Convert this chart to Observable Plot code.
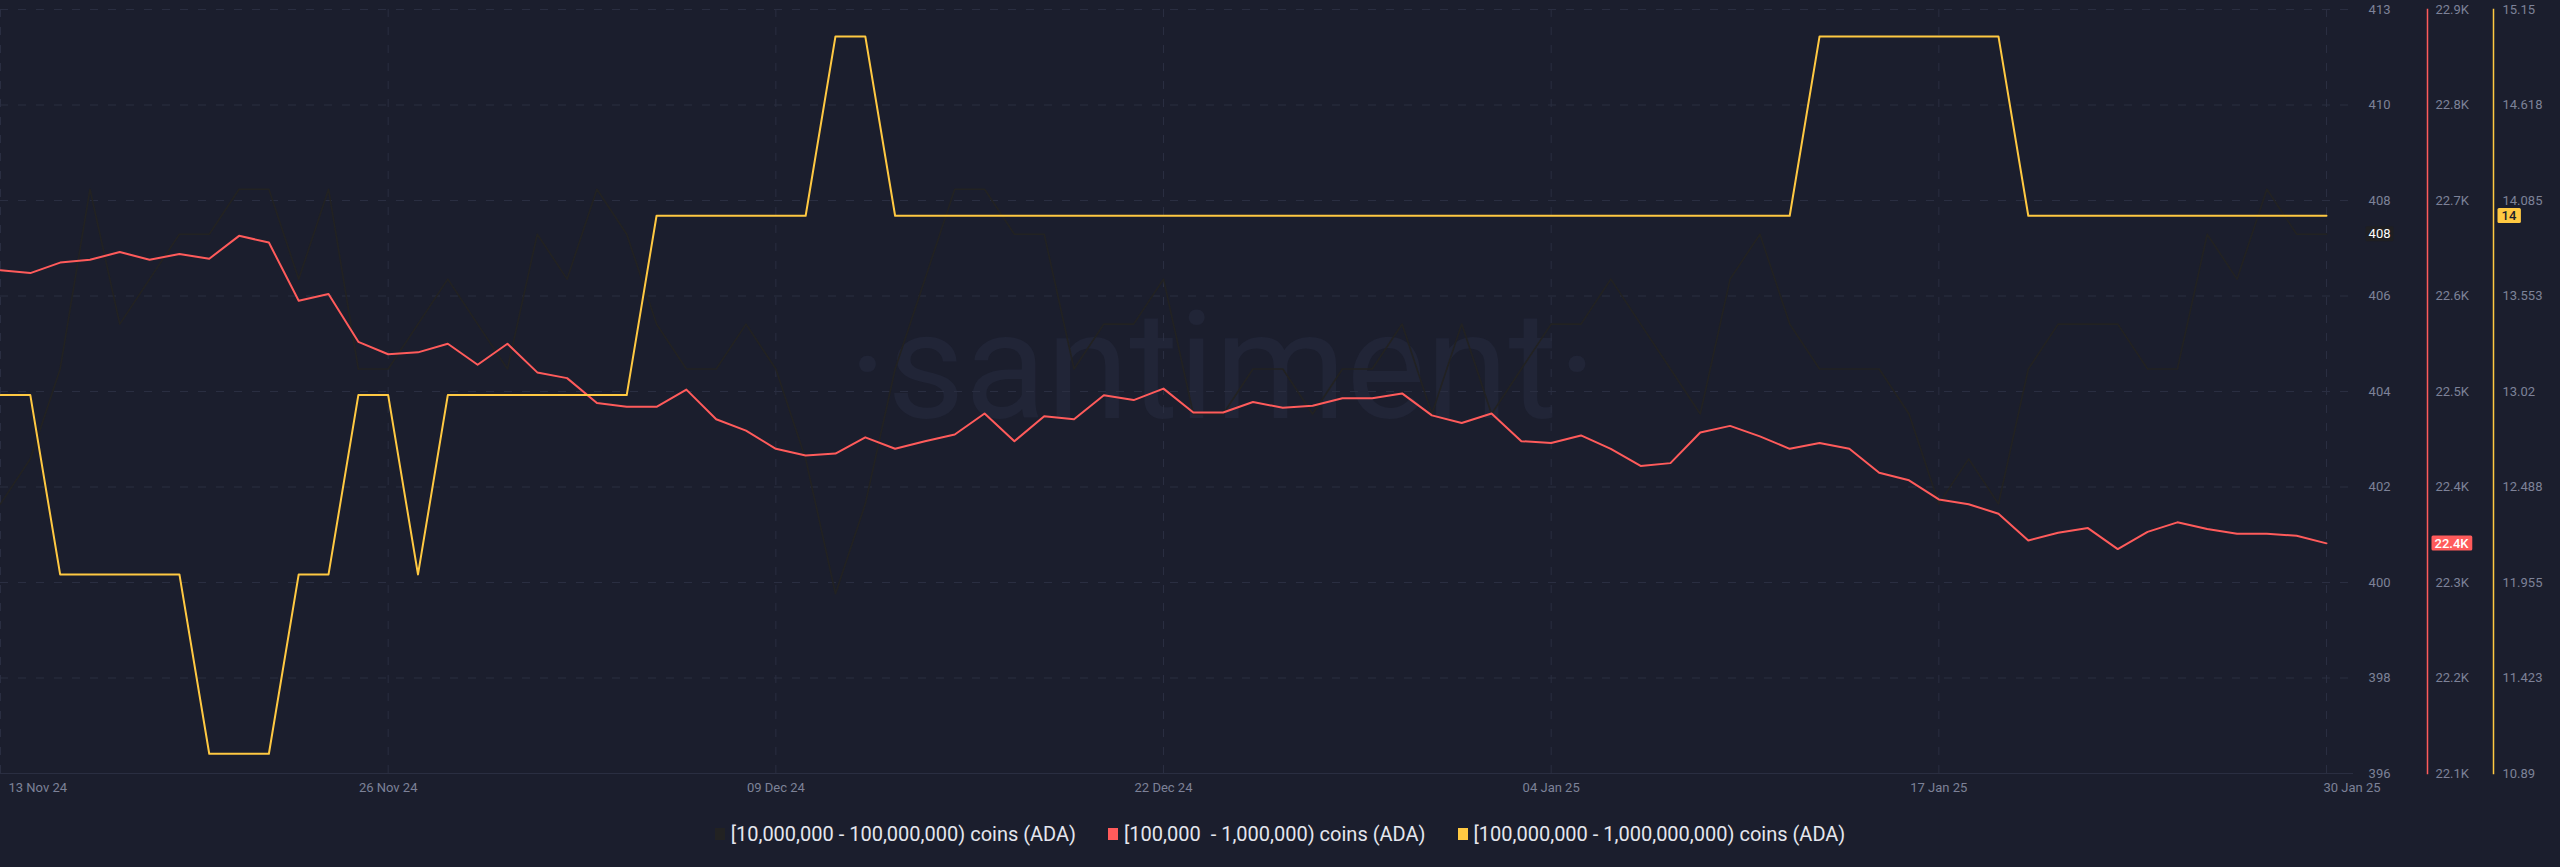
<!DOCTYPE html>
<html>
<head>
<meta charset="utf-8">
<script src="https://cdn.jsdelivr.net/npm/d3@7"></script>
<script src="https://cdn.jsdelivr.net/npm/@observablehq/plot@0.6"></script>
<style>
  html, body { margin: 0; padding: 0; background: #1b1e2d; }
  #wrap { position: relative; width: 2560px; height: 867px; overflow: hidden; background: #1b1e2d; font-family: Roboto, sans-serif; }
  #chart { position: relative; width: 2560px; height: 800px; }
  #chart svg { position: absolute; left: 0; top: 0; }
  #legend { position: absolute; left: 0; top: 800px; width: 2560px; height: 67px; display: flex; justify-content: center; align-items: center; color: #e4e6ee; font-size: 20px; white-space: pre; }
  .item { display: flex; align-items: center; margin: 0 16px; }
  .sw { width: 10px; height: 12px; margin-right: 6px; }
</style>
</head>
<body>
<div id="wrap">
  <div id="chart"></div>
  <div id="legend"></div>
</div>
<script>
// ---------- data ----------
const startDate = "2024-11-13";
const seriesNames = [
  "[10,000,000 - 100,000,000) coins (ADA)",
  "[100,000  - 1,000,000) coins (ADA)",
  "[100,000,000 - 1,000,000,000) coins (ADA)"
];
const seriesColors = ["#222222", "#ff5b5b", "#ffc942"];

// daily holder counts, 13 Nov 2024 .. 30 Jan 2025
const holders10M = [
  402,403,405,409,406,407,408,408,409,409,
  407,409,405,405,406,407,406,405,408,407,
  409,408,406,405,405,406,405,403,400,402,
  405,407,409,409,408,408,405,406,406,407,
  404,404,405,405,404,405,405,406,404,406,
  404,405,406,406,407,406,405,404,407,408,
  406,405,405,405,404,402,403,402,405,406,
  406,406,405,405,408,407,409,408,408
];
const holders100K = [
  22627,22624,22635,22638,22646,22638,22644,22639,22663,22656,
  22595,22602,22552,22539,22541,22550,22528,22550,22520,22514,
  22488,22484,22484,22502,22471,22459,22440,22433,22435,22452,
  22440,22448,22455,22477,22448,22474,22471,22496,22491,22503,
  22478,22478,22489,22483,22485,22493,22493,22498,22475,22467,
  22477,22448,22446,22454,22440,22422,22425,22457,22464,22453,
  22440,22446,22440,22415,22407,22387,22382,22372,22344,22352,
  22357,22335,22353,22363,22356,22351,22351,22349,22341
];
const holders100M = [
  13,13,12,12,12,12,12,11,11,11,
  12,12,13,13,12,13,13,13,13,13,
  13,13,14,14,14,14,14,14,15,15,
  14,14,14,14,14,14,14,14,14,14,
  14,14,14,14,14,14,14,14,14,14,
  14,14,14,14,14,14,14,14,14,14,
  14,15,15,15,15,15,15,15,14,14,
  14,14,14,14,14,14,14,14,14
];

const xTickDates = ["2024-11-13","2024-11-26","2024-12-09","2024-12-22","2025-01-04","2025-01-17","2025-01-30"];

const leftTicks = [396, 398.125, 400.25, 402.375, 404.5, 406.625, 408.75, 410.875, 413];
const leftTickLabels = ["396","398","400","402","404","406","408","410","413"];
const redTicks = [22100, 22200, 22300, 22400, 22500, 22600, 22700, 22800, 22900];
const redTickLabels = ["22.1K","22.2K","22.3K","22.4K","22.5K","22.6K","22.7K","22.8K","22.9K"];
const yellowTicks = [10.89, 11.4225, 11.955, 12.4875, 13.02, 13.5525, 14.085, 14.6175, 15.15];
const yellowTickLabels = ["10.89","11.423","11.955","12.488","13.02","13.553","14.085","14.618","15.15"];
const badgeLabels = ["408", "22.4K", "14"];
const watermark = "·santiment·";

// ---------- build ----------
const parse = s => new Date(s + "T00:00:00Z");
const dates = holders10M.map((_, i) => d3.utcDay.offset(parse(startDate), i));
const rows = vals => vals.map((v, i) => ({date: dates[i], v}));
const fmt = d3.utcFormat("%d %b %y");
const xt = xTickDates.map(parse);

const W = 2560, H = 800, MT = 9, MB = 27;
const labelColor = "#7d8298";
const gridColor = "#2a2e41";
const badgeText = ["#fefefe", "#fffffe", "#1b1e2c"];

function layer(marginRight, yDomain, marks) {
  return Plot.plot({
    width: W, height: H,
    marginTop: MT, marginBottom: MB, marginLeft: 0, marginRight,
    x: {type: "utc", domain: [dates[0], dates[dates.length - 1]], range: [0, 2326], axis: null},
    y: {domain: yDomain, axis: null},
    style: {background: "transparent", fontFamily: "Roboto, sans-serif", fontSize: "13px", overflow: "visible", color: labelColor},
    marks
  });
}

const lastIdx = dates.length - 1;
const tickRows = (ticks, labels) => ticks.map((t, i) => ({t, label: labels[i]}));

const base = layer(208, [396, 413], [
  Plot.text([watermark], {text: d => d, frameAnchor: "middle", dx: 46, dy: -22, fontSize: 150, fontWeight: 400, fill: "#212537"}),
  Plot.gridY(leftTicks, {stroke: gridColor, strokeOpacity: 1, strokeDasharray: "8,10"}),
  Plot.gridX(xt, {stroke: gridColor, strokeOpacity: 1, strokeDasharray: "8,10"}),
  Plot.frame({anchor: "bottom", stroke: gridColor}),
  Plot.text(xt.slice(1, -1), {x: d => d, text: d => fmt(d), frameAnchor: "bottom", dy: 14, lineAnchor: "middle", fill: labelColor}),
  Plot.text(xt.slice(0, 1), {x: d => d, text: d => fmt(d), frameAnchor: "bottom", dy: 14, dx: 8, lineAnchor: "middle", textAnchor: "start", fill: labelColor}),
  Plot.text(xt.slice(-1), {x: d => d, text: d => fmt(d), frameAnchor: "bottom", dy: 14, dx: -3, lineAnchor: "middle", textAnchor: "start", fill: labelColor}),
  Plot.line(rows(holders10M), {x: "date", y: "v", stroke: seriesColors[0], strokeWidth: 1.6}),
  Plot.text(tickRows(leftTicks, leftTickLabels), {y: "t", text: "label", frameAnchor: "right", dx: 38, textAnchor: "end", lineAnchor: "middle", fill: labelColor}),
  Plot.text([holders10M[lastIdx]], {y: d => d, text: () => badgeLabels[0], frameAnchor: "right", dx: 38, textAnchor: "end", lineAnchor: "middle", fill: badgeText[0]})
]);

const red = layer(133, [22100, 22900], [
  Plot.line(rows(holders100K), {x: "date", y: "v", stroke: seriesColors[1], strokeWidth: 2}),
  Plot.frame({anchor: "right", stroke: seriesColors[1], strokeWidth: 1.5}),
  Plot.text(tickRows(redTicks, redTickLabels), {y: "t", text: "label", frameAnchor: "right", dx: 8, textAnchor: "start", lineAnchor: "middle", fill: labelColor}),
  Plot.text([holders100K[lastIdx]], {y: d => d, text: () => badgeLabels[1], frameAnchor: "right", dx: 7, textAnchor: "start", lineAnchor: "middle", fill: badgeText[1], fontWeight: 500})
]);

const yellow = layer(67, [10.89, 15.15], [
  Plot.line(rows(holders100M), {x: "date", y: "v", stroke: seriesColors[2], strokeWidth: 2}),
  Plot.frame({anchor: "right", stroke: seriesColors[2], strokeWidth: 1.5}),
  Plot.text(tickRows(yellowTicks, yellowTickLabels), {y: "t", text: "label", frameAnchor: "right", dx: 9, textAnchor: "start", lineAnchor: "middle", fill: labelColor}),
  Plot.text([holders100M[lastIdx]], {y: d => d, text: () => badgeLabels[2], frameAnchor: "right", dx: 8, textAnchor: "start", lineAnchor: "middle", fill: badgeText[2], fontWeight: 500})
]);

const chart = document.getElementById("chart");
chart.append(base, red, yellow);

// draw a background rectangle behind each badge label
function badgeBg(svg, textFill, fill, padX, padY) {
  const groups = Array.from(svg.querySelectorAll("g")).filter(g => (g.getAttribute("fill") || "").toLowerCase() === textFill);
  groups.forEach(g => {
    g.querySelectorAll("text").forEach(t => {
      const b = t.getBBox();
      const r = document.createElementNS("http://www.w3.org/2000/svg", "rect");
      r.setAttribute("x", b.x - padX);
      r.setAttribute("y", b.y - padY);
      r.setAttribute("width", b.width + 2 * padX);
      r.setAttribute("height", b.height + 2 * padY);
      r.setAttribute("rx", 1.5);
      r.setAttribute("fill", fill);
      if (t.getAttribute("transform")) r.setAttribute("transform", t.getAttribute("transform"));
      t.parentNode.insertBefore(r, t);
    });
  });
}
badgeBg(base, badgeText[0], "#1f1f22", 3, 0);
badgeBg(red, badgeText[1], seriesColors[1], 3, 0);
badgeBg(yellow, badgeText[2], seriesColors[2], 4, 0);

// legend
const legend = document.getElementById("legend");
seriesNames.forEach((name, i) => {
  const it = document.createElement("div");
  it.className = "item";
  const sw = document.createElement("span");
  sw.className = "sw";
  sw.style.background = seriesColors[i];
  const tx = document.createElement("span");
  tx.textContent = name;
  it.append(sw, tx);
  legend.append(it);
});
</script>
</body>
</html>
